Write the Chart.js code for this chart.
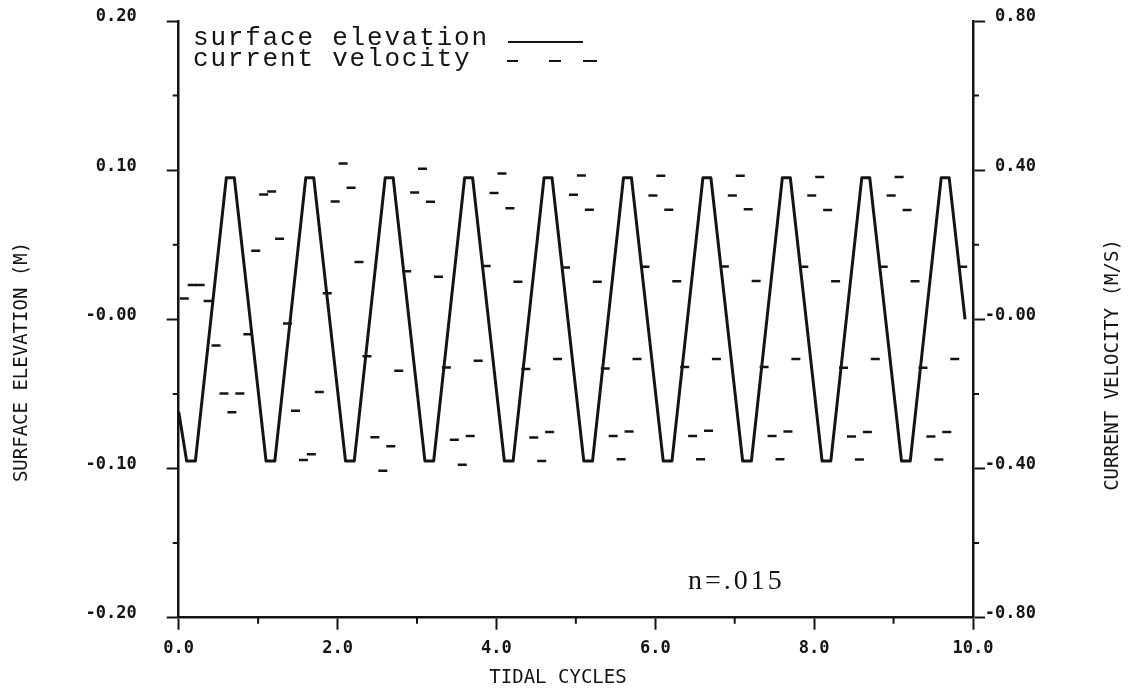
<!DOCTYPE html>
<html>
<head>
<meta charset="utf-8">
<script src="https://cdn.jsdelivr.net/npm/chart.js@4.4.0/dist/chart.umd.min.js"></script>
<style>
  html, body { margin: 0; padding: 0; background: #fff; }
</style>
</head>
<body>
<canvas id="myChart" width="1136" height="692"></canvas>
<script>
const ink = '#141414';

// surface elevation (m) - corners of the plotted trace
const elevTime = [0.00,
  0.10, 0.21, 0.60, 0.70,
  1.10, 1.21, 1.60, 1.70,
  2.10, 2.21, 2.60, 2.70,
  3.10, 3.21, 3.60, 3.70,
  4.10, 4.21, 4.60, 4.70,
  5.10, 5.21, 5.60, 5.70,
  6.10, 6.21, 6.60, 6.70,
  7.10, 7.21, 7.60, 7.70,
  8.10, 8.21, 8.60, 8.70,
  9.10, 9.21, 9.60, 9.70,
  9.90];
const elevValue = [-0.062,
  -0.095, -0.095, 0.095, 0.095,
  -0.095, -0.095, 0.095, 0.095,
  -0.095, -0.095, 0.095, 0.095,
  -0.095, -0.095, 0.095, 0.095,
  -0.095, -0.095, 0.095, 0.095,
  -0.095, -0.095, 0.095, 0.095,
  -0.095, -0.095, 0.095, 0.095,
  -0.095, -0.095, 0.095, 0.095,
  -0.095, -0.095, 0.095, 0.095,
  -0.095, -0.095, 0.095, 0.095,
  0.000];

// current velocity (m/s) - one reading every 0.1 tidal cycle
const velStart = 0.07;
const velStep = 0.1;
const velValue = [
  0.056, 0.092, 0.092, 0.049, -0.070, -0.199, -0.249, -0.199, -0.040, 0.184,
  0.335, 0.343, 0.216, -0.011, -0.245, -0.377, -0.362, -0.195, 0.070, 0.316,
  0.418, 0.353, 0.154, -0.099, -0.316, -0.406, -0.340, -0.138, 0.129, 0.340,
  0.404, 0.315, 0.114, -0.129, -0.323, -0.390, -0.313, -0.111, 0.143, 0.339,
  0.391, 0.298, 0.101, -0.133, -0.317, -0.380, -0.302, -0.106, 0.139, 0.334,
  0.386, 0.294, 0.101, -0.132, -0.313, -0.375, -0.301, -0.106, 0.141, 0.332,
  0.385, 0.294, 0.102, -0.128, -0.313, -0.375, -0.299, -0.106, 0.142, 0.332,
  0.385, 0.295, 0.103, -0.128, -0.313, -0.375, -0.301, -0.106, 0.141, 0.332,
  0.382, 0.293, 0.102, -0.130, -0.314, -0.376, -0.302, -0.106, 0.141, 0.332,
  0.382, 0.293, 0.102, -0.130, -0.314, -0.376, -0.302, -0.106, 0.141
];

// tick labels
const xTickLabels = ['0.0', '2.0', '4.0', '6.0', '8.0', '10.0'];
const leftTickLabels = ['-0.20', '-0.10', '-0.00', '0.10', '0.20'];
const rightTickLabels = ['-0.80', '-0.40', '-0.00', '0.40', '0.80'];
const xMinor = [1, 3, 5, 7, 9];
const leftMinor = [-0.15, -0.05, 0.05, 0.15];
const rightMinor = [-0.6, -0.2, 0.2, 0.6];

const elevPoints = elevTime.map((t, i) => ({ x: t, y: elevValue[i] }));
const velPoints = velValue.map((v, i) => ({ x: velStart + velStep * i, y: v }));

const tickFont = { family: 'DejaVu Sans Mono', size: 17, weight: 'bold' };

// extra bits the old plotter drew: minor ticks, titles, legend, note
const plotterBits = {
  id: 'plotterBits',
  afterDraw(chart) {
    const ctx = chart.ctx;
    const a = chart.chartArea;
    const sx = chart.scales.x, sl = chart.scales.y, sr = chart.scales.y1;
    ctx.save();
    ctx.strokeStyle = ink;
    ctx.fillStyle = ink;
    ctx.lineWidth = 2;
    ctx.beginPath();
    xMinor.forEach(v => {
      const p = sx.getPixelForValue(v);
      ctx.moveTo(p, a.bottom); ctx.lineTo(p, a.bottom + 6);
    });
    leftMinor.forEach(v => {
      const p = sl.getPixelForValue(v);
      ctx.moveTo(a.left - 6, p); ctx.lineTo(a.left, p);
    });
    rightMinor.forEach(v => {
      const p = sr.getPixelForValue(v);
      ctx.moveTo(a.right, p); ctx.lineTo(a.right + 6, p);
    });
    ctx.stroke();

    // axis titles
    ctx.font = '19px "DejaVu Sans Mono"';
    ctx.textAlign = 'center';
    ctx.textBaseline = 'middle';
    ctx.save();
    ctx.translate(22, 362);
    ctx.rotate(-Math.PI / 2);
    ctx.fillText('SURFACE ELEVATION (M)', 0, 0);
    ctx.restore();
    ctx.save();
    ctx.translate(1113, 365);
    ctx.rotate(-Math.PI / 2);
    ctx.fillText('CURRENT VELOCITY (M/S)', 0, 0);
    ctx.restore();
    ctx.fillText('TIDAL CYCLES', 558, 678);

    // legend
    ctx.font = '26px "Liberation Mono"';
    ctx.letterSpacing = '1.8px';
    ctx.textAlign = 'left';
    ctx.textBaseline = 'alphabetic';
    ctx.fillText('surface elevation', 193, 45);
    ctx.fillText('current velocity', 193, 66);
    ctx.letterSpacing = '0px';
    ctx.beginPath();
    ctx.moveTo(508, 42); ctx.lineTo(583, 42);
    ctx.moveTo(507, 61); ctx.lineTo(518, 61);
    ctx.moveTo(549, 61); ctx.lineTo(561, 61);
    ctx.moveTo(583, 61); ctx.lineTo(597, 61);
    ctx.stroke();

    // Manning n
    ctx.font = '28px "Liberation Serif"';
    ctx.letterSpacing = '3px';
    ctx.fillText('n=.015', 688, 589);
    ctx.restore();
  }
};

let myChart = document.getElementById('myChart').getContext('2d');

let tideChart = new Chart(myChart, {
  type: 'scatter',
  data: {
    datasets: [{
      label: 'surface elevation',
      data: elevPoints,
      yAxisID: 'y',
      showLine: true,
      borderColor: ink,
      borderWidth: 3,
      borderJoinStyle: 'round',
      tension: 0,
      pointRadius: 0,
      pointHoverRadius: 0
    }, {
      label: 'current velocity',
      data: velPoints,
      yAxisID: 'y1',
      showLine: false,
      pointStyle: 'line',
      pointRadius: 4.5,
      pointHoverRadius: 4.5,
      pointBorderWidth: 2.5,
      pointBorderColor: ink,
      pointBackgroundColor: ink
    }]
  },
  options: {
    responsive: false,
    animation: false,
    layout: { padding: { top: 21, left: 0, right: 100, bottom: 0 } },
    plugins: {
      legend: { display: false },
      tooltip: { enabled: false }
    },
    scales: {
      x: {
        type: 'linear',
        position: 'bottom',
        min: 0, max: 10,
        afterFit: s => { s.height = 74.3; },
        grid: { display: true, drawOnChartArea: false, drawTicks: true, tickLength: 12, tickWidth: 2, tickColor: ink },
        border: { display: true, color: ink, width: 2.5 },
        ticks: {
          stepSize: 2, autoSkip: false, maxRotation: 0, padding: 9,
          color: ink, font: tickFont,
          callback: (v, i) => xTickLabels[i]
        }
      },
      y: {
        type: 'linear',
        position: 'left',
        min: -0.2, max: 0.2,
        afterFit: s => { s.width = 178.7; s.paddingTop = 0; s.paddingBottom = 0; },
        grid: { display: true, drawOnChartArea: false, drawTicks: true, tickLength: 12, tickWidth: 2, tickColor: ink },
        border: { display: true, color: ink, width: 2.5 },
        ticks: {
          stepSize: 0.1, autoSkip: false, padding: 30, labelOffset: -4,
          color: ink, font: tickFont,
          callback: (v, i) => leftTickLabels[i]
        }
      },
      y1: {
        type: 'linear',
        position: 'right',
        min: -0.8, max: 0.8,
        afterFit: s => { s.width = 63; s.paddingTop = 0; s.paddingBottom = 0; },
        grid: { display: true, drawOnChartArea: false, drawTicks: true, tickLength: 12, tickWidth: 2, tickColor: ink },
        border: { display: true, color: ink, width: 2.5 },
        ticks: {
          stepSize: 0.4, autoSkip: false, padding: 2, labelOffset: -4, crossAlign: 'far',
          color: ink, font: tickFont,
          callback: (v, i) => rightTickLabels[i]
        }
      }
    }
  },
  plugins: [plotterBits]
});
</script>
</body>
</html>
